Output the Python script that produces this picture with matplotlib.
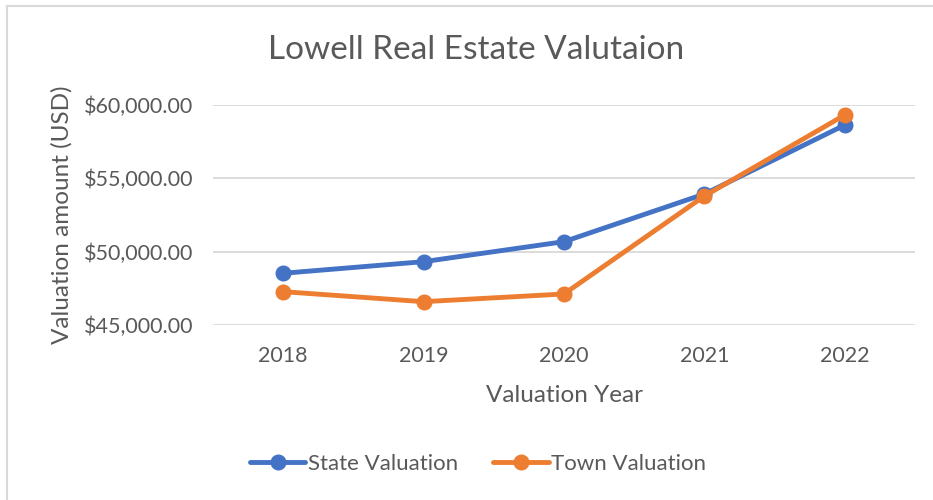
import matplotlib
matplotlib.use("Agg")
import matplotlib.pyplot as plt
from matplotlib.ticker import FuncFormatter

years = ["2018", "2019", "2020", "2021", "2022"]
state_valuation = [48527, 49318, 50682, 53930, 58636]
town_valuation = [47273, 46590, 47115, 53793, 59318]
y_ticks = [45000, 50000, 55000, 60000]

TEXT = "#595959"
BLUE = "#4472C4"
ORANGE = "#ED7D31"
GRID = "#D9D9D9"

plt.rcParams["font.family"] = ["Lato", "DejaVu Sans"]

fig = plt.figure(figsize=(9.33, 5.0), dpi=100)
fig.patch.set_facecolor("white")

# light chart-area frame (left and top edges)
fig.add_artist(plt.Line2D([7 / 933, 7 / 933], [0, 1 - 6 / 500], color=GRID, lw=1.5,
                          transform=fig.transFigure))
fig.add_artist(plt.Line2D([7 / 933, 1], [1 - 6 / 500, 1 - 6 / 500], color=GRID, lw=1.5,
                          transform=fig.transFigure))

ax = fig.add_axes([213 / 933, 1 - 325 / 500, (915 - 213) / 933, (325 - 105) / 500])
x = list(range(len(years)))

ax.plot(x, state_valuation, color=BLUE, lw=3.5, marker="o", markersize=10.5,
        label="State Valuation", solid_capstyle="round", zorder=3)
ax.plot(x, town_valuation, color=ORANGE, lw=3.5, marker="o", markersize=10.5,
        label="Town Valuation", solid_capstyle="round", zorder=4)

ax.set_xlim(-0.5, len(years) - 0.5)
ax.set_ylim(45000, 60000)
ax.set_xticks(x)
ax.set_xticklabels(years)
ax.set_yticks(y_ticks)
ax.yaxis.set_major_formatter(FuncFormatter(lambda v, p: f"${v:,.2f}"))
ax.grid(axis="y", color=GRID, lw=1.3)
ax.set_axisbelow(True)
for s in ax.spines.values():
    s.set_visible(False)
ax.tick_params(length=0, labelsize=15.5, colors=TEXT)
ax.tick_params(axis="x", pad=15)
ax.tick_params(axis="y", pad=14)

ax.set_xlabel("Valuation Year", fontsize=17.5, color=TEXT, labelpad=14)
ax.set_ylabel("Valuation amount (USD)", fontsize=17.5, color=TEXT, labelpad=8)

fig.text(476 / 933, 1 - 50 / 500, "Lowell Real Estate Valutaion", ha="center", va="center",
         fontsize=24, color=TEXT)

leg = fig.legend(loc="center", bbox_to_anchor=(478 / 933, 1 - 464 / 500), ncol=2,
                 frameon=False, fontsize=16, handlelength=2.5, handletextpad=0.1,
                 columnspacing=1.6, labelcolor=TEXT)

fig.savefig("out.png", dpi=100, facecolor="white")
